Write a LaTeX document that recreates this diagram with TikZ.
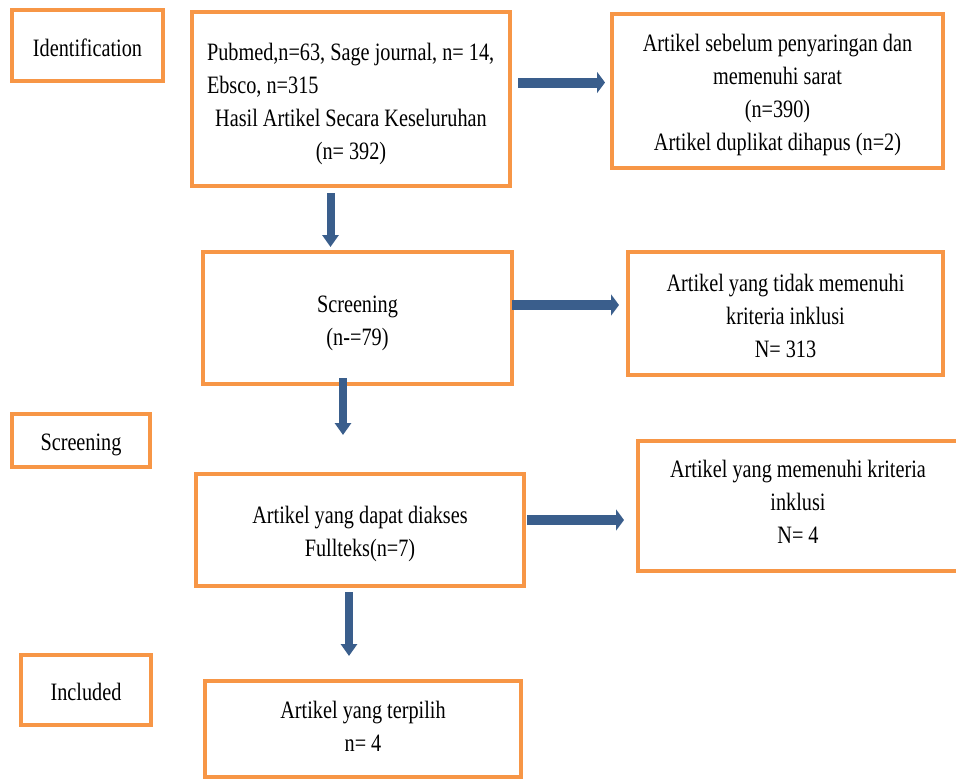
\documentclass[tikz,border=0pt]{standalone}
\usepackage{fontspec}
\setmainfont{Liberation Serif}[FakeStretch=0.81]
\usetikzlibrary{arrows.meta}
\definecolor{boxorange}{HTML}{F79646}
\definecolor{arrowblue}{HTML}{3A5E8C}
\tikzset{
  box/.style={draw=boxorange, line width=4pt, inner sep=0pt},
  txt/.style={inner sep=0pt, align=center,
    font=\fontsize{25}{33}\selectfont, text=black},
  harrow/.style={draw=arrowblue, line width=10pt,
    -{Triangle[width=21pt,length=8pt]}},
  varrow/.style={draw=arrowblue, line width=8pt,
    -{Triangle[width=16pt,length=12pt]}}
}
\begin{document}
\begin{tikzpicture}[x=1pt,y=-1pt]
\useasboundingbox (0,0) rectangle (956,780);
\fill[white] (0,0) rectangle (956,780);

\node[box, minimum width=151pt, minimum height=71pt] (id) at (87.5,45.5) {};
\node[txt] (idt) at ([yshift=-2pt]id.center) {Identification};

\node[box, minimum width=318pt, minimum height=174pt] (b1) at (351,99) {};
\node[txt] (b1t) at ([yshift=-5pt]b1.center)
  {\makebox[288pt][l]{Pubmed,n=63, Sage journal, n= 14,}\\
   \makebox[288pt][l]{Ebsco, n=315}\\
   Hasil Artikel Secara Keseluruhan\\
   (n= 392)};

\node[box, minimum width=331pt, minimum height=154pt] (r1) at (777.5,91) {};
\node[txt] (r1t) at ([yshift=-4pt]r1.center)
  {Artikel sebelum penyaringan dan\\ memenuhi sarat\\ (n=390)\\ Artikel duplikat dihapus (n=2)};

\node[box, minimum width=309pt, minimum height=132pt] (b2) at (357.5,318) {};
\node[txt] (b2t) at ([yshift=-5pt]b2.center) {Screening\\ (n-=79)};

\node[box, minimum width=315pt, minimum height=123pt] (r2) at (785.5,313.5) {};
\node[txt] (r2t) at ([yshift=-2pt]r2.center)
  {Artikel yang tidak memenuhi\\ kriteria inklusi\\ N= 313};

\node[box, minimum width=138pt, minimum height=53pt] (sc) at (81,440.5) {};
\node[txt] (sct) at ([yshift=-4pt]sc.center) {Screening};

\node[box, minimum width=328pt, minimum height=112pt] (b3) at (360,530) {};
\node[txt] (b3t) at ([yshift=-4pt]b3.center) {Artikel yang dapat diakses\\ Fullteks(n=7)};

\node[box, minimum width=320pt, minimum height=130pt] (r3) at (798,506) {};
\node[txt] (r3t) at ([yshift=4pt]r3.center)
  {Artikel yang memenuhi kriteria\\ inklusi\\ N= 4};

\node[box, minimum width=130pt, minimum height=70pt] (inc) at (86,690) {};
\node[txt] (inct) at ([yshift=-2pt]inc.center) {Included};

\node[box, minimum width=316pt, minimum height=96pt] (b4) at (363,729) {};
\node[txt] (b4t) at ([yshift=3pt]b4.center) {Artikel yang terpilih\\ n= 4};

\draw[harrow] ([xshift=6pt,yshift=16.5pt]b1.east) -- ([xshift=-5pt,yshift=8.5pt]r1.west);
\draw[harrow] ([xshift=-2pt,yshift=13pt]b2.east) -- ([xshift=-7pt,yshift=8.5pt]r2.west);
\draw[harrow] ([xshift=1pt,yshift=10pt]b3.east) -- ([xshift=-12pt,yshift=-14pt]r3.west);

\draw[varrow] ([xshift=-20.5pt,yshift=-5pt]b1.south) -- ([xshift=-27pt,yshift=3pt]b2.north);
\draw[varrow] ([xshift=-14.5pt,yshift=8pt]b2.south) -- ([xshift=-17pt,yshift=37pt]b3.north);
\draw[varrow] ([xshift=-11pt,yshift=-4pt]b3.south) -- ([xshift=-14pt,yshift=23pt]b4.north);
\end{tikzpicture}
\end{document}
